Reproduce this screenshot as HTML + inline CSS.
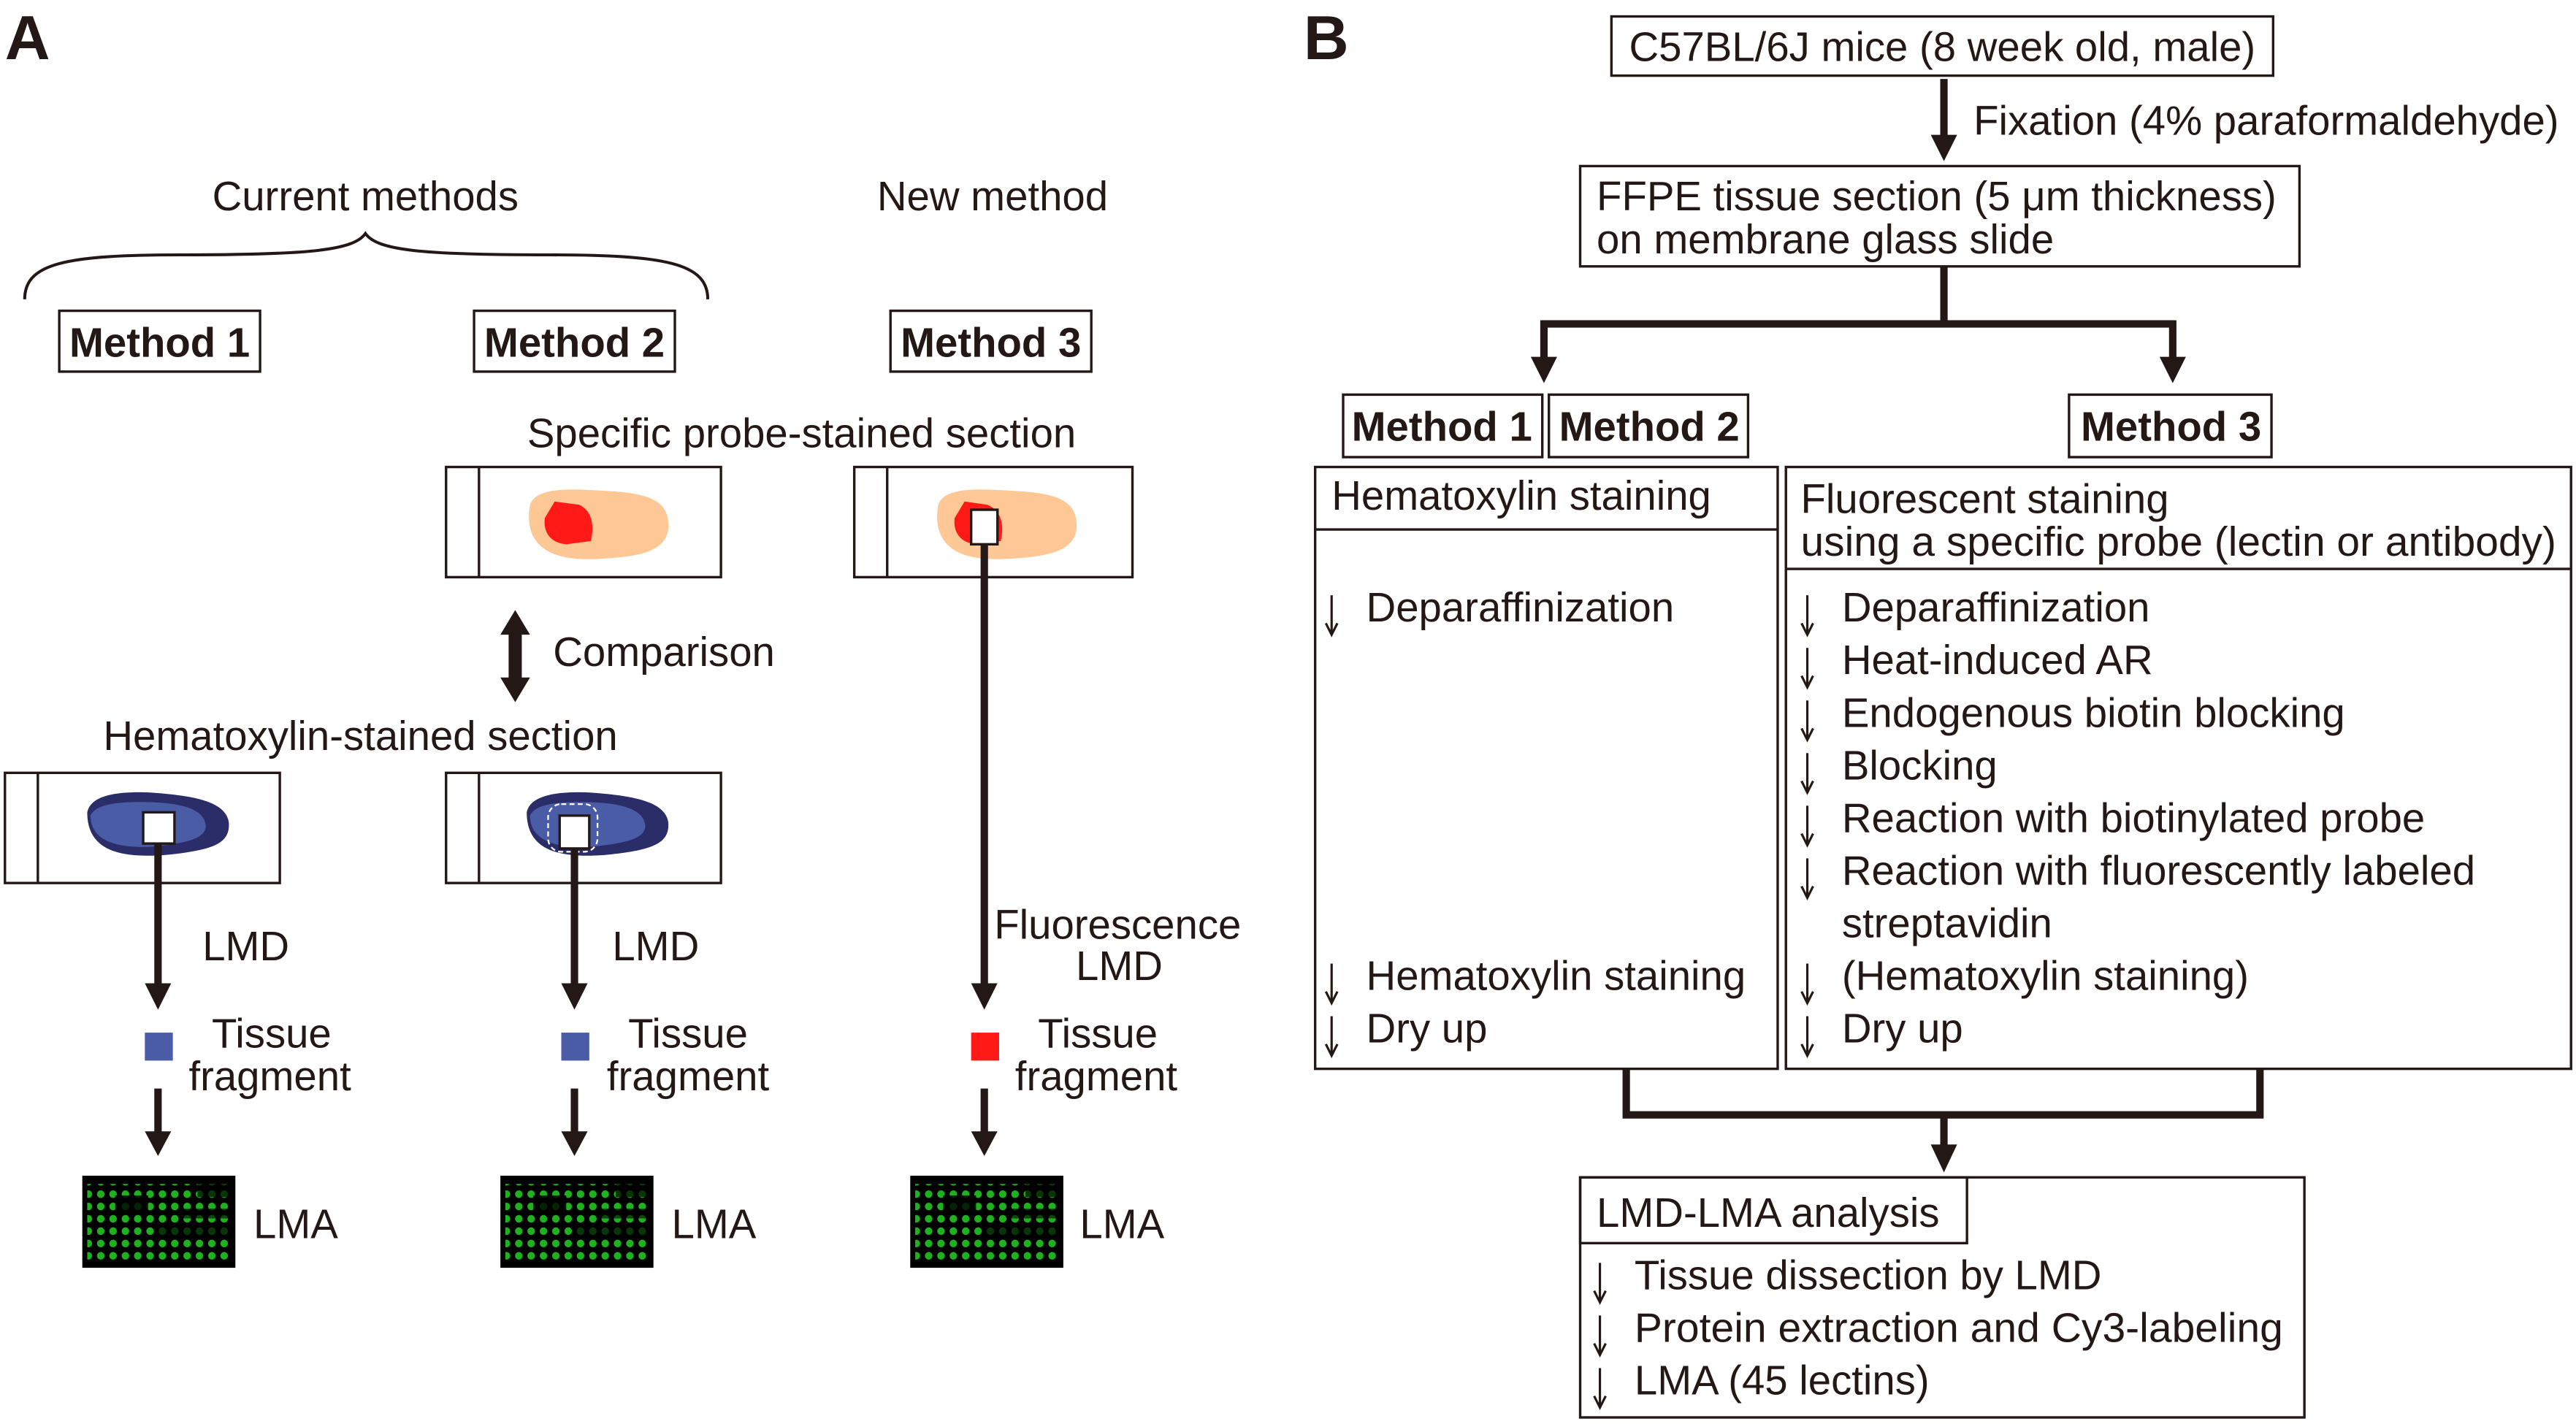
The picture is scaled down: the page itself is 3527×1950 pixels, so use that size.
<!DOCTYPE html>
<html><head><meta charset="utf-8"><style>
html,body{margin:0;padding:0;background:#fff;}
svg{display:block;}
text{font-family:"Liberation Sans",sans-serif;fill:#231815;}
</style></head><body>
<svg width="3527" height="1950" viewBox="0 0 1565 866" preserveAspectRatio="none" xmlns="http://www.w3.org/2000/svg">
<defs>
<pattern id="dots" x="0" y="0" width="7.5" height="7.5" patternUnits="userSpaceOnUse">
<circle cx="3.7" cy="3.7" r="2.3" fill="#22c522"/>
</pattern>
<g id="chip">
<rect x="0" y="0" width="93" height="56" fill="#000"/>
<rect x="3" y="5" width="88" height="48" fill="url(#dots)" opacity="0.9"/>
<rect x="20" y="12" width="20" height="10" fill="#000" opacity="0.8"/>
<rect x="60" y="20" width="30" height="6" fill="#000" opacity="0.6"/>
<rect x="45" y="30" width="45" height="7" fill="#000" opacity="0.7"/>
<rect x="70" y="5" width="22" height="8" fill="#000" opacity="0.7"/>
</g>
<g id="da">
<line x1="0" y1="-20" x2="0" y2="3" stroke="#231815" stroke-width="1.4"/>
<path d="M-3.5,-3 L0,4 L3.5,-3" fill="none" stroke="#231815" stroke-width="1.4"/>
</g>
</defs>
<g stroke="#231815" fill="none">
<path d="M15,182 C15,160 40,155 110,155 C190,155 215,152 222,142 C229,152 254,155 334,155 C404,155 430,160 430,182" stroke-width="1.8"/>
<rect x="36" y="189" width="122" height="37" stroke-width="1.5"/>
<rect x="288" y="189" width="122" height="37" stroke-width="1.5"/>
<rect x="541" y="189" width="122" height="37" stroke-width="1.5"/>
<rect x="271" y="284" width="167" height="67" stroke-width="1.5"/><line x1="291" y1="284" x2="291" y2="351" stroke-width="1.5"/>
<rect x="519" y="284" width="169" height="67" stroke-width="1.5"/><line x1="539" y1="284" x2="539" y2="351" stroke-width="1.5"/>
<rect x="3" y="470" width="167" height="67" stroke-width="1.5"/><line x1="23" y1="470" x2="23" y2="537" stroke-width="1.5"/>
<rect x="271" y="470" width="167" height="67" stroke-width="1.5"/><line x1="291" y1="470" x2="291" y2="537" stroke-width="1.5"/>
</g>
<path d="M322,307 C326,296 345,297 375,299 C400,301 407,308 406,322 C404,335 390,339 360,340 C332,341 318,330 322,307Z" fill="#fdc896"/>
<path d="M337,305 L352,307 C360,311 361,320 359,329 L344,331 C333,330 330,322 331,315Z" fill="#ff1a17"/>
<path d="M570,307 C574,296 593,297 623,299 C648,301 655,308 654,322 C652,335 638,339 608,340 C580,341 566,330 570,307Z" fill="#fdc896"/>
<path d="M586,305 L600,307 C609,311 610,320 608,329 L593,331 C582,330 579,322 580,315Z" fill="#ff1a17"/>
<rect x="590" y="310" width="16" height="21" fill="#fff" stroke="#231815" stroke-width="1.5"/>
<g>
<path d="M53,494 C55,484 70,481 92,482 C120,484 137,488 139,500 C140,513 130,517 100,520 C72,522 53,517 53,494Z" fill="#2a2d68"/>
<path d="M55,496 C58,489 72,487 95,488 C115,489 125,494 125,503 C124,511 110,513 92,515 C68,516 55,510 55,496Z" fill="#4a5ca6"/>
<rect x="87" y="494" width="19" height="19" fill="#fff" stroke="#231815" stroke-width="1.5"/>
<path d="M320,494 C322,484 337,481 359,482 C387,484 404,488 406,500 C407,513 397,517 367,520 C339,522 320,517 320,494Z" fill="#2a2d68"/>
<path d="M322,496 C325,489 339,487 362,488 C382,489 392,494 392,503 C391,511 377,513 359,515 C335,516 322,510 322,496Z" fill="#4a5ca6"/>
<rect x="333" y="489" width="30" height="29" rx="8" fill="none" stroke="#fff" stroke-width="1" stroke-dasharray="3,2"/>
<rect x="340" y="496" width="18" height="20" fill="#fff" stroke="#231815" stroke-width="1.5"/>
</g>
<g stroke="#231815" stroke-width="4.5" fill="#231815">
<line x1="96" y1="513" x2="96" y2="600"/><path d="M88,598 L104,598 L96,614Z" stroke="none"/>
<line x1="96" y1="662" x2="96" y2="690"/><path d="M88,688 L104,688 L96,703Z" stroke="none"/>
<line x1="349" y1="516" x2="349" y2="600"/><path d="M341,598 L357,598 L349,614Z" stroke="none"/>
<line x1="349" y1="662" x2="349" y2="690"/><path d="M341,688 L357,688 L349,703Z" stroke="none"/>
<line x1="598" y1="331" x2="598" y2="600"/><path d="M590,598 L606,598 L598,614Z" stroke="none"/>
<line x1="598" y1="662" x2="598" y2="690"/><path d="M590,688 L606,688 L598,703Z" stroke="none"/>
<line x1="313" y1="382" x2="313" y2="415" stroke-width="8"/>
<path d="M304,386 L322,386 L313,371Z M304,412 L322,412 L313,427Z" stroke="none"/>
</g>
<rect x="88" y="628" width="17" height="17" fill="#4a5ca6"/>
<rect x="341" y="628" width="17" height="17" fill="#4a5ca6"/>
<rect x="590" y="628" width="17" height="17" fill="#ff1a17"/>
<use href="#chip" x="50" y="715"/>
<use href="#chip" x="304" y="715"/>
<use href="#chip" x="553" y="715"/>

<text x="3" y="36" font-size="38" font-weight="bold">A</text>
<g font-size="25">
<text x="222" y="128" text-anchor="middle">Current methods</text>
<text x="603" y="128" text-anchor="middle">New method</text>
<text x="97" y="217" font-weight="bold" text-anchor="middle">Method 1</text>
<text x="349" y="217" font-weight="bold" text-anchor="middle">Method 2</text>
<text x="602" y="217" font-weight="bold" text-anchor="middle">Method 3</text>
<text x="487" y="272" text-anchor="middle">Specific probe-stained section</text>
<text x="336" y="405">Comparison</text>
<text x="219" y="456" text-anchor="middle">Hematoxylin-stained section</text>
<text x="123" y="584">LMD</text>
<text x="372" y="584">LMD</text>
<text x="604" y="571">Fluorescence</text>
<text x="680" y="596" text-anchor="middle">LMD</text>
<text x="165" y="637" text-anchor="middle">Tissue</text>
<text x="164" y="663" text-anchor="middle">fragment</text>
<text x="418" y="637" text-anchor="middle">Tissue</text>
<text x="418" y="663" text-anchor="middle">fragment</text>
<text x="667" y="637" text-anchor="middle">Tissue</text>
<text x="666" y="663" text-anchor="middle">fragment</text>
<text x="154" y="753">LMA</text>
<text x="408" y="753">LMA</text>
<text x="656" y="753">LMA</text>
</g>

<g stroke="#231815" fill="none" stroke-width="1.5">
<rect x="979" y="10" width="402" height="36"/>
<rect x="960" y="101" width="437" height="61"/>
<rect x="816" y="240" width="121" height="38"/>
<rect x="941" y="240" width="121" height="38"/>
<rect x="1257" y="240" width="123" height="38"/>
<rect x="799" y="284" width="281" height="366"/>
<line x1="799" y1="322" x2="1080" y2="322"/>
<rect x="1085" y="284" width="477" height="366"/>
<line x1="1085" y1="346" x2="1562" y2="346"/>
<rect x="960" y="716" width="440" height="146"/>
<rect x="960" y="716" width="235" height="40"/>
</g>
<g stroke="#231815" stroke-width="4.5" fill="none">
<line x1="1181" y1="48" x2="1181" y2="84"/>
<polyline points="1181,162 1181,197"/>
<polyline points="938,219 938,197 1320,197 1320,219"/>
<polyline points="988,650 988,678 1373,678 1373,650"/>
<line x1="1181" y1="678" x2="1181" y2="698"/>
</g>
<g fill="#231815">
<path d="M1173,82 L1189,82 L1181,98Z"/>
<path d="M930,217 L946,217 L938,233Z"/>
<path d="M1312,217 L1328,217 L1320,233Z"/>
<path d="M1173,696 L1189,696 L1181,713Z"/>
</g>
<text x="792" y="36" font-size="38" font-weight="bold">B</text>
<g font-size="25">
<text x="1180" y="37" text-anchor="middle">C57BL/6J mice (8 week old, male)</text>
<text x="1199" y="82">Fixation (4% paraformaldehyde)</text>
<text x="970" y="128">FFPE tissue section (5 μm thickness)</text>
<text x="970" y="154">on membrane glass slide</text>
<text x="876" y="268" font-weight="bold" text-anchor="middle">Method 1</text>
<text x="1002" y="268" font-weight="bold" text-anchor="middle">Method 2</text>
<text x="1319" y="268" font-weight="bold" text-anchor="middle">Method 3</text>
<text x="809" y="310">Hematoxylin staining</text>
<text x="1094" y="312">Fluorescent staining</text>
<text x="1094" y="338" textLength="459" lengthAdjust="spacingAndGlyphs">using a specific probe (lectin or antibody)</text>
<text x="830" y="378">Deparaffinization</text>
<text x="830" y="602">Hematoxylin staining</text>
<text x="830" y="634">Dry up</text>
<text x="1119" y="378">Deparaffinization</text>
<text x="1119" y="410">Heat-induced AR</text>
<text x="1119" y="442">Endogenous biotin blocking</text>
<text x="1119" y="474">Blocking</text>
<text x="1119" y="506">Reaction with biotinylated probe</text>
<text x="1119" y="538">Reaction with fluorescently labeled</text>
<text x="1119" y="570">streptavidin</text>
<text x="1119" y="602">(Hematoxylin staining)</text>
<text x="1119" y="634">Dry up</text>
<text x="970" y="746">LMD-LMA analysis</text>
<text x="993" y="784">Tissue dissection by LMD</text>
<text x="993" y="816" textLength="394" lengthAdjust="spacingAndGlyphs">Protein extraction and Cy3-labeling</text>
<text x="993" y="848">LMA (45 lectins)</text>
</g>
<use href="#da" x="809" y="382"/>
<use href="#da" x="809" y="606"/>
<use href="#da" x="809" y="638"/>
<use href="#da" x="1098" y="382"/>
<use href="#da" x="1098" y="414"/>
<use href="#da" x="1098" y="446"/>
<use href="#da" x="1098" y="478"/>
<use href="#da" x="1098" y="510"/>
<use href="#da" x="1098" y="542"/>
<use href="#da" x="1098" y="606"/>
<use href="#da" x="1098" y="638"/>
<use href="#da" x="972" y="788"/>
<use href="#da" x="972" y="820"/>
<use href="#da" x="972" y="852"/>
</svg>
</body></html>
